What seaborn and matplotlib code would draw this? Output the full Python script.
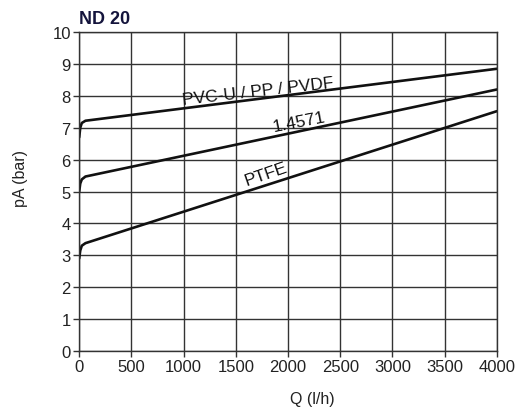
import matplotlib
matplotlib.use("Agg")
import matplotlib.pyplot as plt
import seaborn as sns
import pandas as pd

# flow Q (l/h) and pressure pA (bar)
q_points = [0, 10, 25, 60, 4000]
pvc_pa = [6.7, 7.0, 7.15, 7.22, 8.85]
steel_pa = [5.0, 5.25, 5.38, 5.47, 8.2]
ptfe_pa = [2.9, 3.15, 3.3, 3.38, 7.52]

series_names = ["PVC-U / PP / PVDF", "1.4571", "PTFE"]
x_ticks = [0, 500, 1000, 1500, 2000, 2500, 3000, 3500, 4000]
y_ticks = list(range(0, 11))

df = pd.concat([
    pd.DataFrame({"Q": q_points, "pA": vals, "material": name})
    for name, vals in zip(series_names, [pvc_pa, steel_pa, ptfe_pa])
])

sns.set_style("white")
plt.rcParams["font.family"] = ["Liberation Sans", "DejaVu Sans"]

fig = plt.figure(figsize=(5.28, 4.14), dpi=100)
ax = fig.add_axes([0.150, 0.150, 0.791, 0.770])

sns.lineplot(data=df, x="Q", y="pA", units="material", estimator=None,
             color="#111111", linewidth=1.9, ax=ax, legend=False)

ax.set_xlim(0, 4000)
ax.set_ylim(0, 10)
ax.set_xticks(x_ticks)
ax.set_yticks(y_ticks)
ax.grid(True, color="#333333", linewidth=1.0)
ax.set_axisbelow(True)
for s in ax.spines.values():
    s.set_color("#333333")
    s.set_linewidth(1.0)
ax.tick_params(axis="both", labelsize=12, colors="#333333", length=4,
               width=1.0, direction="out", left=True, bottom=True, pad=2)
ax.tick_params(labelcolor="#222222")
ax.set_xlabel("Q (l/h)", fontsize=11.5, color="#222222")
ax.xaxis.set_label_coords(0.557, -0.125, transform=ax.transAxes)
ax.xaxis.label.set_va("top")
ax.set_ylabel("pA (bar)", fontsize=11.5, color="#222222")
ax.yaxis.set_label_coords(-0.122, 0.545, transform=ax.transAxes)

ax.text(0, 10.15, "ND 20", fontsize=13, fontweight="bold", color="#14143c",
        ha="left", va="bottom")

ax.text(1713, 8.17, "PVC-U / PP / PVDF", fontsize=12.5, rotation=6.5,
        ha="center", va="center", color="#111111")
ax.text(2100, 7.2, "1.4571", fontsize=12.5, rotation=11,
        ha="center", va="center", color="#111111")
ax.text(1785, 5.57, "PTFE", fontsize=12.5, rotation=19,
        ha="center", va="center", color="#111111")

fig.savefig("out.png", dpi=100)
